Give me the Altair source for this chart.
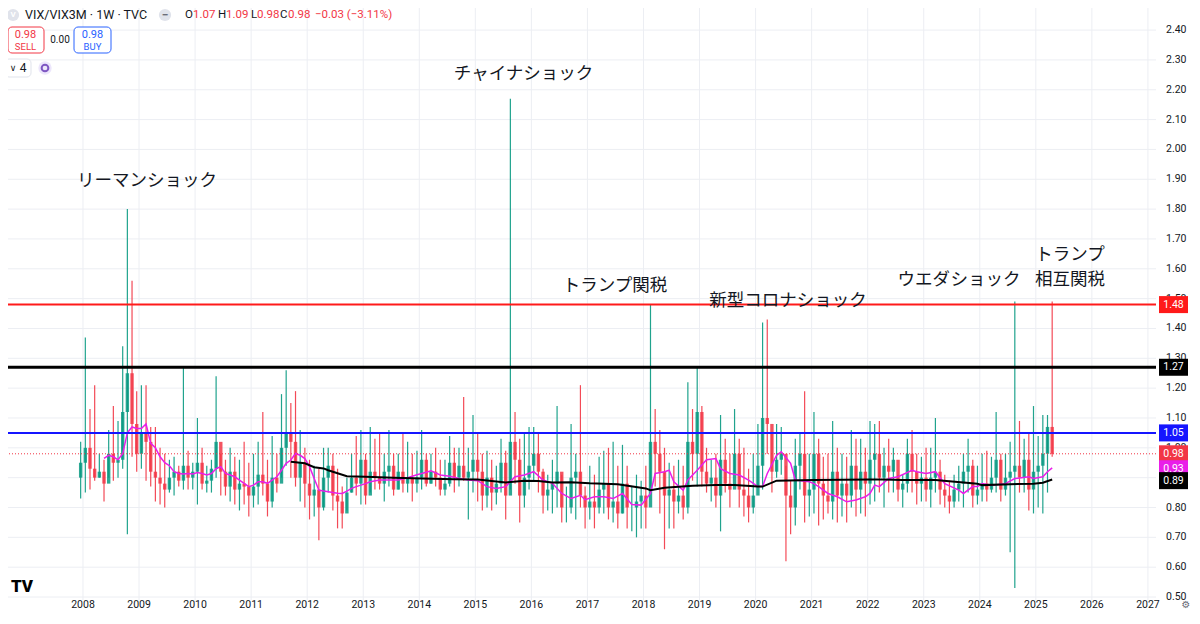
import altair as alt
import pandas as pd

# ---------------- data (monthly candles) ----------------
FIRST_YEAR, FIRST_MONTH = 2007, 12
first_open = 0.90

high = [
    1.02,                                                                  # 2007-12
    1.37, 1.13, 1.21, 0.98, 0.96, 1.06, 1.14, 1.09, 1.34, 1.80, 1.56, 1.19,  # 2008
    1.21, 1.21, 1.07, 1.07, 1.00, 0.98, 0.96, 0.97, 0.94, 1.27, 0.99, 0.95,  # 2009
    1.10, 1.00, 0.94, 0.96, 1.24, 0.98, 0.96, 1.00, 0.97, 0.96, 1.02, 0.95,  # 2010
    0.98, 1.02, 1.12, 0.96, 1.04, 0.98, 1.18, 1.26, 1.15, 1.19, 1.06, 1.00,  # 2011
    0.96, 0.94, 0.93, 1.00, 1.00, 0.98, 0.93, 0.87, 0.90, 0.98, 1.04, 1.06,  # 2012
    0.98, 1.07, 1.03, 1.05, 0.98, 1.06, 0.98, 0.98, 1.05, 1.02, 0.98, 0.99,  # 2013
    1.06, 0.98, 0.98, 1.00, 0.96, 0.96, 1.04, 1.00, 1.00, 1.17, 1.00, 1.11,  # 2014
    1.05, 0.98, 0.99, 0.96, 0.94, 1.03, 0.99, 2.17, 1.12, 1.03, 1.05, 1.07,  # 2015
    1.07, 1.05, 0.93, 0.91, 0.96, 1.14, 0.91, 0.87, 1.08, 0.98, 1.21, 0.87,  # 2016
    0.94, 0.91, 0.97, 0.99, 1.00, 1.02, 0.94, 1.01, 0.94, 0.87, 0.91, 0.89,  # 2017
    0.94, 1.48, 1.13, 1.06, 1.00, 0.95, 0.94, 0.96, 0.94, 1.22, 1.13, 1.27,  # 2018
    1.14, 1.00, 0.96, 0.98, 1.11, 1.03, 0.98, 1.13, 1.03, 1.00, 0.93, 0.98,  # 2019
    1.08, 1.42, 1.43, 1.05, 1.08, 1.07, 0.94, 0.89, 1.03, 1.05, 1.19, 0.98,  # 2020
    1.12, 1.03, 0.97, 0.98, 1.09, 1.00, 0.98, 0.97, 1.06, 1.03, 1.03, 1.00,  # 2021
    1.09, 1.08, 1.09, 1.00, 1.03, 1.00, 0.91, 0.91, 1.03, 1.06, 0.98, 0.97,  # 2022
    1.00, 1.00, 1.10, 0.96, 0.91, 0.89, 0.91, 0.94, 0.98, 1.03, 0.96, 0.94,  # 2023
    0.98, 0.99, 0.97, 1.12, 0.98, 0.98, 1.02, 1.49, 1.09, 1.03, 1.05, 1.14,  # 2024
    1.04, 1.11, 1.11, 1.49,                                                # 2025
]
low = [
    0.83,
    0.85, 0.86, 0.89, 0.90, 0.82, 0.90, 0.89, 0.90, 0.93, 0.71, 0.97, 0.92,
    0.93, 0.89, 0.87, 0.82, 0.81, 0.80, 0.85, 0.84, 0.87, 0.86, 0.86, 0.86,
    0.81, 0.86, 0.85, 0.85, 0.90, 0.84, 0.84, 0.82, 0.81, 0.79, 0.81, 0.77,
    0.80, 0.81, 0.84, 0.77, 0.80, 0.85, 0.90, 0.94, 0.90, 0.87, 0.82, 0.80,
    0.76, 0.77, 0.69, 0.79, 0.85, 0.79, 0.73, 0.73, 0.79, 0.85, 0.84, 0.81,
    0.81, 0.85, 0.86, 0.86, 0.82, 0.87, 0.84, 0.86, 0.85, 0.85, 0.82, 0.85,
    0.86, 0.87, 0.88, 0.87, 0.84, 0.84, 0.87, 0.85, 0.87, 0.89, 0.76, 0.85,
    0.82, 0.79, 0.80, 0.79, 0.81, 0.85, 0.76, 0.86, 0.88, 0.75, 0.80, 0.86,
    0.89, 0.85, 0.78, 0.79, 0.78, 0.80, 0.75, 0.75, 0.78, 0.76, 0.80, 0.73,
    0.76, 0.73, 0.78, 0.78, 0.76, 0.75, 0.73, 0.78, 0.73, 0.72, 0.70, 0.73,
    0.73, 0.87, 0.87, 0.78, 0.66, 0.73, 0.73, 0.78, 0.76, 0.78, 0.89, 0.87,
    0.87, 0.85, 0.82, 0.80, 0.72, 0.85, 0.80, 0.91, 0.80, 0.77, 0.75, 0.78,
    0.87, 0.86, 0.98, 0.85, 0.90, 0.91, 0.62, 0.71, 0.74, 0.86, 0.75, 0.77,
    0.78, 0.74, 0.76, 0.78, 0.76, 0.75, 0.77, 0.75, 0.80, 0.77, 0.78, 0.77,
    0.81, 0.82, 0.85, 0.80, 0.85, 0.85, 0.82, 0.80, 0.85, 0.85, 0.81, 0.82,
    0.82, 0.80, 0.85, 0.81, 0.80, 0.78, 0.80, 0.82, 0.80, 0.85, 0.80, 0.81,
    0.82, 0.82, 0.85, 0.85, 0.82, 0.84, 0.65, 0.53, 0.85, 0.85, 0.79, 0.78,
    0.80, 0.78, 0.85, 0.97,
]
close = [
    0.95,
    1.00, 0.93, 0.90, 0.92, 0.88, 0.98, 0.95, 0.96, 1.12, 1.25, 1.08, 0.98,
    1.05, 1.02, 0.92, 0.90, 0.88, 0.86, 0.90, 0.92, 0.89, 0.94, 0.90, 0.92,
    0.95, 0.88, 0.89, 0.93, 1.02, 0.92, 0.87, 0.92, 0.86, 0.88, 0.87, 0.84,
    0.87, 0.91, 0.88, 0.82, 0.90, 0.88, 1.00, 1.05, 1.02, 0.90, 0.95, 0.88,
    0.84, 0.86, 0.80, 0.90, 0.94, 0.84, 0.82, 0.78, 0.85, 0.90, 0.88, 0.96,
    0.84, 0.92, 0.90, 0.88, 0.92, 0.94, 0.86, 0.92, 0.88, 0.90, 0.88, 0.90,
    0.96, 0.88, 0.92, 0.90, 0.86, 0.88, 0.95, 0.90, 0.94, 0.90, 0.92, 0.96,
    0.92, 0.84, 0.90, 0.85, 0.88, 0.95, 0.84, 1.02, 0.96, 0.84, 0.90, 0.94,
    0.98, 0.92, 0.84, 0.86, 0.88, 0.92, 0.80, 0.80, 0.90, 0.92, 0.84, 0.80,
    0.82, 0.80, 0.86, 0.88, 0.80, 0.82, 0.78, 0.88, 0.80, 0.80, 0.82, 0.84,
    0.80, 1.02, 0.98, 0.92, 0.84, 0.86, 0.82, 0.84, 0.80, 1.02, 0.98, 1.12,
    0.92, 0.88, 0.90, 0.84, 0.96, 0.88, 0.86, 0.98, 0.86, 0.84, 0.80, 0.84,
    0.94, 1.10, 1.08, 0.92, 0.96, 0.98, 0.84, 0.80, 0.94, 0.98, 0.84, 0.86,
    0.98, 0.88, 0.84, 0.82, 0.92, 0.84, 0.88, 0.84, 0.94, 0.86, 0.92, 0.88,
    0.96, 0.98, 0.90, 0.94, 0.92, 0.96, 0.86, 0.88, 0.98, 0.92, 0.88, 0.90,
    0.86, 0.90, 0.92, 0.86, 0.84, 0.82, 0.86, 0.88, 0.92, 0.94, 0.84, 0.86,
    0.88, 0.86, 0.90, 0.96, 0.86, 0.90, 0.92, 0.94, 0.90, 0.96, 0.86, 0.92,
    0.94, 0.98, 1.07, 0.98,
]

# moving averages (month, value)
pink_month = ["2008-05", "2008-06", "2008-07", "2008-08", "2008-09", "2008-10", "2008-11", "2008-12",
              "2009-01", "2009-02", "2009-03", "2009-04", "2009-05", "2009-06", "2009-07", "2009-08",
              "2009-09", "2009-10", "2009-11", "2009-12", "2010-01", "2010-02", "2010-03", "2010-04",
              "2010-05", "2010-06", "2010-07", "2010-08", "2010-09", "2010-10", "2010-11", "2010-12",
              "2011-01", "2011-02", "2011-03", "2011-04", "2011-05", "2011-06", "2011-07", "2011-08",
              "2011-09", "2011-10", "2011-11", "2011-12", "2012-01", "2012-02", "2012-03", "2012-04",
              "2012-05", "2012-06", "2012-07", "2012-08", "2012-09", "2012-10", "2012-11", "2012-12",
              "2013-01", "2013-02", "2013-04", "2013-06", "2013-08", "2013-10", "2013-12",
              "2014-02", "2014-03", "2014-05", "2014-07", "2014-09", "2014-11",
              "2015-01", "2015-03", "2015-05", "2015-07", "2015-09", "2015-11",
              "2016-01", "2016-03", "2016-05", "2016-07", "2016-09", "2016-11", "2016-12",
              "2017-02", "2017-04", "2017-06", "2017-08", "2017-10", "2017-12",
              "2018-02", "2018-03", "2018-05", "2018-06", "2018-07", "2018-09", "2018-10", "2018-12",
              "2019-02", "2019-04", "2019-05", "2019-07", "2019-09", "2019-11",
              "2020-01", "2020-02", "2020-03", "2020-05", "2020-06", "2020-08", "2020-09", "2020-12",
              "2021-01", "2021-02", "2021-04", "2021-06", "2021-08", "2021-10", "2021-12",
              "2022-01", "2022-02", "2022-03", "2022-05", "2022-07", "2022-10", "2022-11",
              "2023-01", "2023-03", "2023-05", "2023-08", "2023-09", "2023-11", "2023-12",
              "2024-01", "2024-03", "2024-06", "2024-08", "2024-11", "2024-12",
              "2025-02", "2025-03", "2025-04"]
pink_val = [0.965, 0.975, 0.97, 0.96, 0.98, 1.05, 1.07, 1.065,
            1.065, 1.08, 1.015, 1.00, 0.97, 0.95, 0.94, 0.92,
            0.914, 0.912, 0.914, 0.912, 0.917, 0.914, 0.909, 0.914,
            0.93, 0.937, 0.914, 0.909, 0.903, 0.892, 0.881, 0.87,
            0.875, 0.886, 0.886, 0.881, 0.892, 0.903, 0.925, 0.948,
            0.959, 0.981, 0.975, 0.964, 0.937, 0.897, 0.858, 0.855,
            0.853, 0.85, 0.848, 0.847, 0.855, 0.864, 0.87, 0.875,
            0.88, 0.886, 0.892, 0.892, 0.892, 0.90, 0.91,
            0.918, 0.923, 0.909, 0.905, 0.897, 0.892,
            0.89, 0.87, 0.864, 0.87, 0.903, 0.909,
            0.92, 0.892, 0.881, 0.847, 0.83, 0.841, 0.826,
            0.836, 0.836, 0.83, 0.847, 0.81, 0.808,
            0.847, 0.914, 0.92, 0.925, 0.886, 0.858, 0.892, 0.925,
            0.96, 0.964, 0.93, 0.914, 0.909, 0.892,
            0.87, 0.87, 0.914, 0.975, 0.987, 0.948, 0.892, 0.886,
            0.88, 0.87, 0.847, 0.836, 0.819, 0.825, 0.836,
            0.847, 0.875, 0.87, 0.897, 0.903, 0.925, 0.92,
            0.914, 0.92, 0.88, 0.858, 0.847, 0.87, 0.87,
            0.88, 0.875, 0.88, 0.897, 0.903, 0.897,
            0.903, 0.92, 0.933]

black_month = ["2011-09", "2011-12", "2012-02", "2012-04", "2012-05", "2012-07", "2012-09", "2013-01",
               "2013-07", "2014-01", "2014-08", "2015-01", "2015-04", "2015-07", "2015-11", "2016-02",
               "2016-05", "2016-09", "2017-01", "2017-07", "2018-01", "2018-02", "2018-05", "2018-11",
               "2019-04", "2019-08", "2020-01", "2020-02", "2020-05", "2021-01", "2022-01", "2022-04",
               "2022-08", "2023-03", "2023-12", "2024-01", "2024-07", "2024-12", "2025-02", "2025-04"]
black_val = [0.953, 0.948, 0.935, 0.931, 0.925, 0.915, 0.905, 0.903,
             0.90, 0.897, 0.895, 0.894, 0.889, 0.884, 0.89, 0.889,
             0.884, 0.885, 0.881, 0.878, 0.864, 0.858, 0.866, 0.873,
             0.875, 0.875, 0.87, 0.87, 0.89, 0.892, 0.894, 0.894,
             0.892, 0.892, 0.88, 0.875, 0.878, 0.88, 0.883, 0.894]

level_vals = [1.48, 1.27, 1.05, 0.98]
level_colors = ["#ff1a1a", "#000000", "#1515ff", "#f23645"]

box_vals = [1.48, 1.27, 1.05, 0.98, 0.93, 0.89]
box_colors = ["#ff1a1a", "#000000", "#1515ff", "#f23645", "#e91ee9", "#000000"]

ann_text = ["リーマンショック", "チャイナショック", "トランプ関税", "新型コロナショック",
            "ウエダショック", "トランプ", "相互関税"]
ann_t = [2009.14, 2015.86, 2017.49, 2020.58, 2023.63, 2025.61, 2025.61]
ann_v = [1.894, 2.253, 1.542, 1.492, 1.562, 1.645, 1.562]

year_ticks = list(range(2008, 2028))
price_ticks = [round(0.5 + 0.1 * i, 2) for i in range(20)]


def month_to_t(s):
    y, m = s.split("-")
    return int(y) + (int(m) - 0.5) / 12


rows = []
prev = first_open
for i, (h, l, c) in enumerate(zip(high, low, close)):
    m = FIRST_MONTH - 1 + i
    yr = FIRST_YEAR + m // 12
    mo = m % 12
    rows.append(dict(t=yr + (mo + 0.5) / 12, open=prev, high=h, low=l, close=c,
                     dir="up" if c >= prev else "down"))
    prev = c
candles = pd.DataFrame(rows)

pink = pd.DataFrame({"t": [month_to_t(s) for s in pink_month], "v": pink_val})
black = pd.DataFrame({"t": [month_to_t(s) for s in black_month], "v": black_val})
boxes = pd.DataFrame({"v": box_vals, "color": box_colors,
                      "label": [f"{v:.2f}" for v in box_vals]})
boxes["top"] = boxes["v"] + 0.0285
boxes["bot"] = boxes["v"] - 0.0285
anns = pd.DataFrame({"t": ann_t, "v": ann_v, "text": ann_text})
xt = pd.DataFrame({"t": year_ticks, "label": [str(y) for y in year_ticks]})
yt = pd.DataFrame({"v": price_ticks, "label": [f"{v:.2f}" for v in price_ticks]})
# the price label fully hidden behind the 0.89 tag is not drawn
yt_lab = yt[yt["v"] != 0.9]

# ---------------- chart ----------------
W, H = 1148, 592
xs = alt.Scale(domain=[2006.662, 2027.144], nice=False, zero=False, padding=0)
ys = alt.Scale(domain=[0.490, 2.474], nice=False, zero=False, padding=0)
GRID = "#eceef3"
TXT = "#131722"
X = lambda f: alt.X(f, scale=xs, axis=None)
Y = lambda f: alt.Y(f, scale=ys, axis=None)

# grid and scale labels (time scale at the bottom, price scale on the right)
xgrid = alt.Chart(xt).mark_rule(color=GRID, strokeWidth=1).encode(x=X("t:Q"))
ygrid = alt.Chart(yt).mark_rule(color=GRID, strokeWidth=1).encode(y=Y("v:Q"))
xlab = alt.Chart(xt).mark_text(font="Roboto", fontSize=10.5, color=TXT, align="center",
                               baseline="middle").encode(
    x=X("t:Q"), y=alt.value(596.5), text="label:N")
ylab = alt.Chart(yt_lab).mark_text(font="Roboto", fontSize=10.5, color=TXT, align="left",
                                   baseline="middle").encode(
    x=alt.value(1158), y=Y("v:Q"), text="label:N")

col = alt.Color("dir:N", scale=alt.Scale(domain=["up", "down"], range=["#089981", "#f23645"]),
                legend=None)

base = alt.Chart(candles)
wicks = base.mark_rule(strokeWidth=1.2, opacity=0.9).encode(
    x=X("t:Q"), y=Y("low:Q"), y2="high:Q", color=col)
bodies = base.mark_bar(size=3.4, opacity=0.85).encode(
    x=X("t:Q"), y=Y("open:Q"), y2="close:Q", color=col)

pink_line = alt.Chart(pink).mark_line(color="#e91ee9", strokeWidth=1.5).encode(
    x=X("t:Q"), y=Y("v:Q"))
black_line = alt.Chart(black).mark_line(color="#000000", strokeWidth=2).encode(
    x=X("t:Q"), y=Y("v:Q"))

levels = []
for v, c in zip(level_vals, level_colors):
    d = pd.DataFrame({"v": [v]})
    if v == 0.98:
        mk = alt.Chart(d).mark_rule(color=c, strokeWidth=1, strokeDash=[1, 2])
    elif v == 1.27:
        mk = alt.Chart(d).mark_rule(color=c, strokeWidth=3)
    else:
        mk = alt.Chart(d).mark_rule(color=c, strokeWidth=2)
    levels.append(mk.encode(y=Y("v:Q")))

ann_layer = alt.Chart(anns).mark_text(font="Noto Sans CJK JP", fontSize=17.5, color=TXT,
                                      align="center", baseline="middle").encode(
    x=X("t:Q"), y=Y("v:Q"), text="text:N")

box_rect = alt.Chart(boxes).mark_rect().encode(
    x=alt.value(1151), x2=alt.value(1180), y=Y("top:Q"), y2="bot:Q",
    color=alt.Color("color:N", scale=None))
box_text = alt.Chart(boxes).mark_text(color="white", fontSize=10.5, font="Roboto",
                                      align="center", baseline="middle").encode(
    x=alt.value(1165.5), y=Y("v:Q"), text="label:N")

one = pd.DataFrame({"k": [0]})


def ui_text(txt, x, y, color=TXT, size=12, align="left", weight="normal", font="Roboto"):
    return alt.Chart(one).mark_text(text=txt, align=align, baseline="middle", fontSize=size,
                                    color=color, fontWeight=weight, font=font).encode(
        x=alt.value(x), y=alt.value(y))


def ui_rect(x1, x2, y1, y2, stroke, fill="white", radius=4):
    return alt.Chart(one).mark_rect(stroke=stroke, fill=fill, cornerRadius=radius,
                                    strokeWidth=1).encode(
        x=alt.value(x1), x2=alt.value(x2), y=alt.value(y1), y2=alt.value(y2))


def ui_dot(x, y, size, color, filled=True):
    return alt.Chart(one).mark_point(filled=filled, size=size, color=color, opacity=1,
                                     strokeWidth=2).encode(x=alt.value(x), y=alt.value(y))


RED = "#f23645"
BLUE = "#2962ff"
TOPY = 7
ui = [
    ui_dot(5, TOPY, 150, "#e0e3eb"),
    ui_text("V", 5, TOPY, color="white", size=8, align="center", weight="bold"),
    ui_text("VIX/VIX3M · 1W · TVC", 17, TOPY, size=12.5),
    ui_dot(157, TOPY, 150, "#e0e3eb"),
    ui_text("−", 157, TOPY, color="#6a6d78", size=12, align="center", weight="bold"),
    ui_text("O", 177, TOPY, size=11.5), ui_text("1.07", 185, TOPY, color=RED, size=11.5),
    ui_text("H", 210, TOPY, size=11.5), ui_text("1.09", 218, TOPY, color=RED, size=11.5),
    ui_text("L", 243, TOPY, size=11.5), ui_text("0.98", 249, TOPY, color=RED, size=11.5),
    ui_text("C", 272, TOPY, size=11.5), ui_text("0.98", 280, TOPY, color=RED, size=11.5),
    ui_text("−0.03 (−3.11%)", 307, TOPY, color=RED, size=11.5),
    ui_rect(0, 36, 19, 45, RED),
    ui_text("0.98", 17.5, 26.5, color=RED, size=11, align="center"),
    ui_text("SELL", 17.5, 38.5, color=RED, size=9.5, align="center"),
    ui_text("0.00", 52, 32, size=10, align="center"),
    ui_rect(66, 103, 19, 45, BLUE),
    ui_text("0.98", 84.5, 26.5, color=BLUE, size=11, align="center"),
    ui_text("BUY", 84.5, 38.5, color=BLUE, size=9.5, align="center"),
    ui_rect(-3, 23, 51, 69, "#e0e3eb"),
    ui_text("∨", 5, 60, size=9, align="center", font="DejaVu Sans"),
    ui_text("4", 15, 60, size=12, align="center"),
    ui_dot(37, 60, 180, "#ece6fb"),
    ui_dot(37, 60, 45, "#7e57c2", filled=False),
    ui_text("TV", 14, 579, color="#000000", size=17, align="center", weight=900),
    ui_text("⚙", 1178, 597, color="#6a6d78", size=10, align="center", font="DejaVu Sans"),
]

chart = alt.layer(
    xgrid, ygrid, wicks, bodies, pink_line, black_line, *levels, ann_layer,
    ylab, xlab, box_rect, box_text, *ui
).properties(
    width=W, height=H,
    autosize=alt.AutoSizeParams(type="none"),
    padding={"left": 0, "top": 0, "right": 36, "bottom": 10},
    background="white",
).configure_view(stroke=None)

chart.save("out.html", embed_options={"renderer": "svg", "actions": False})
